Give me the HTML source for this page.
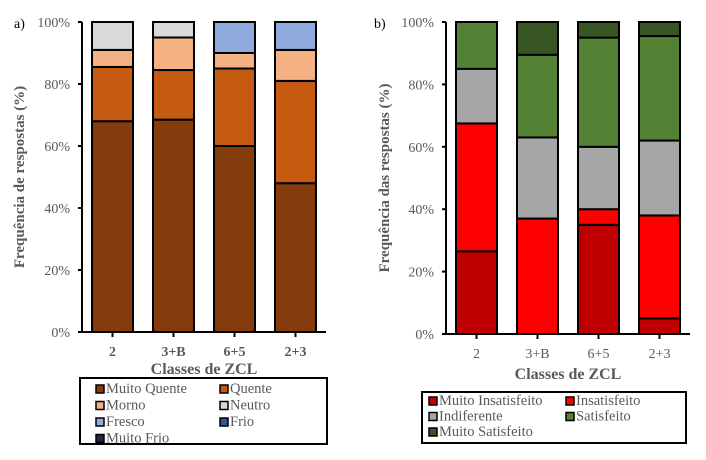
<!DOCTYPE html>
<html><head><meta charset="utf-8"><style>
body{margin:0;background:#fff}
svg text{font-family:"Liberation Serif",serif;fill:#595959}
</style></head><body>
<svg id="c" width="706" height="455" xmlns="http://www.w3.org/2000/svg"></svg>
<script>
const categories=["2","3+B","6+5","2+3"];
const seriesA=["Muito Quente","Quente","Morno","Neutro","Fresco","Frio","Muito Frio"];
const colorsA=["#843c0c","#c55a11","#f4b183","#d9d9d9","#8faadc","#2f5597","#1f2a44"];
const muitoQuente=[68,68.5,60,48];
const quente=[17.5,16,25,33];
const morno=[5.5,10.5,5,10];
const neutro=[9,5,0,0];
const fresco=[0,0,10,9];
const frio=[0,0,0,0];
const muitoFrio=[0,0,0,0];
const seriesB=["Muito Insatisfeito","Insatisfeito","Indiferente","Satisfeito","Muito Satisfeito"];
const colorsB=["#c00000","#ff0000","#a6a6a6","#548235","#375623"];
const muitoInsat=[26.5,0,35,5];
const insat=[41,37,5,33];
const indif=[17.5,26,20,24];
const satisf=[15,26.5,35,33.5];
const muitoSatisf=[0,10.5,5,4.5];
const ticks=[0,20,40,60,80,100];
const NS="http://www.w3.org/2000/svg";
const svg=document.getElementById('c');
function mk(t,a,p){const e=document.createElementNS(NS,t);for(const k in a)e.setAttribute(k,a[k]);(p||svg).appendChild(e);return e;}
function chart(o){
  const g=mk('g',{});
  
  
  const y=v=>o.y0-(o.y0-o.y100)*v/100;
  const step=(o.xEnd-o.x0)/categories.length;
  const x=i=>o.x0+step*i+(step-o.bw)/2;
  categories.forEach((c,i)=>{
    let acc=0;
    o.data.forEach((arr,s)=>{
      const v=arr[i]; if(v<=0)return;
      const r=mk('rect',{x:x(i),y:y(acc+v),width:o.bw,height:y(acc)-y(acc+v),fill:o.colors[s],stroke:'#000','stroke-width':2},g);
      
      
      acc+=v;
    });
    const t=mk('text',{x:x(i)+o.bw/2,y:o.y0+24,'text-anchor':'middle','font-size':14,'font-weight':o.boldX?'bold':'normal'},g);
    t.textContent=c;
    
    
    mk('line',{x1:x(i)+o.bw/2,x2:x(i)+o.bw/2,y1:o.y0,y2:o.y0+5,stroke:'#000','stroke-width':2},g);
  });
  mk('line',{x1:o.x0,x2:o.x0,y1:o.y100,y2:o.y0,stroke:'#000','stroke-width':2},g);
  mk('line',{x1:o.x0,x2:o.xEnd,y1:o.y0,y2:o.y0,stroke:'#000','stroke-width':2},g);
  ticks.forEach(v=>{
    mk('line',{x1:o.x0-4,x2:o.x0,y1:y(v),y2:y(v),stroke:'#000','stroke-width':2},g);
    const t=mk('text',{x:o.x0-12,y:y(v)+5,'text-anchor':'end','font-size':14},g);
    t.textContent=v+'%';
    
    
  });
  const yt=mk('text',{x:0,y:0,'text-anchor':'middle','font-size':15,'font-weight':'bold',transform:`translate(${o.ytx},${(o.y0+o.y100)/2}) rotate(-90)`},g);
  yt.textContent=o.ytitle;
  
  
  const xt=mk('text',{x:(o.x0+o.xEnd)/2,y:o.y0+o.xto,'text-anchor':'middle','font-size':16,'font-weight':'bold'},g);
  xt.textContent='Classes de ZCL';
  
  
  const pl=mk('text',{x:o.px,y:o.y100+6,'font-size':14,style:'fill:#000'},g);
  pl.textContent=o.panel;
  
  
  const L=o.leg;
  const lb=mk('rect',{x:L.x,y:L.y,width:L.w,height:L.h,fill:'#fff',stroke:'#000','stroke-width':2},g);
  
  
  o.series.forEach((s,k)=>{
    const col=k%2,row=Math.floor(k/2);
    const sx=L.cx[col],sy=L.ry+row*L.rh;
    const e=mk('g',{},g);
    
    
    mk('rect',{x:sx,y:sy-8,width:8,height:8,fill:o.colors[k],stroke:'#000','stroke-width':1.5},e);
    const t=mk('text',{x:sx+10,y:sy,'font-size':14.5},e);
    t.textContent=s;
  });
}
chart({name:'chart-a',x0:82,xEnd:326,y0:332,y100:22,bw:41,xto:42,data:[muitoQuente,quente,morno,neutro,fresco,frio,muitoFrio],colors:colorsA,series:seriesA,boldX:true,ytitle:'Frequência de respostas (%)',ytx:24,panel:'a)',px:14,
  leg:{x:80,y:378,w:247,h:66,cx:[96,220],ry:393,rh:16.5}});
chart({name:'chart-b',x0:446,xEnd:690,y0:334,y100:22,bw:41,xto:45,data:[muitoInsat,insat,indif,satisf,muitoSatisf],colors:colorsB,series:seriesB,boldX:false,ytitle:'Frequência das respostas (%)',ytx:389,panel:'b)',px:374,
  leg:{x:422,y:392,w:264,h:51,cx:[429,566],ry:405,rh:15.5}});
</script>
</body></html>
